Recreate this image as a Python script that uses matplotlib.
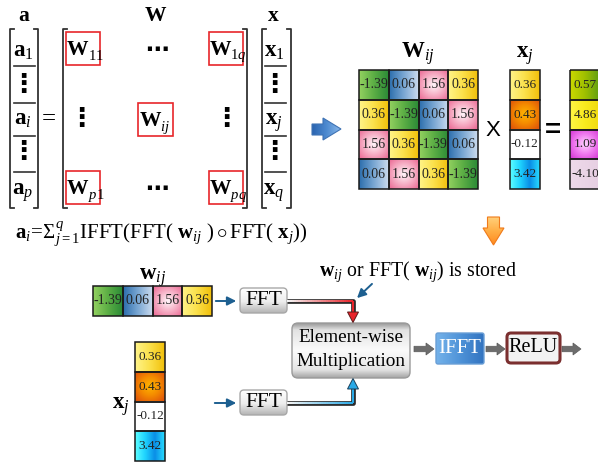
"""Block-circulant FC layer: matrix view, 4x4 example and FFT data path."""

import numpy as np
import matplotlib

matplotlib.use("Agg")
import matplotlib.pyplot as plt
from matplotlib.colors import LinearSegmentedColormap
from matplotlib.patches import FancyBboxPatch, Rectangle, Polygon, FancyArrow
from matplotlib.collections import LineCollection

plt.rcParams["font.family"] = ["Liberation Serif", "DejaVu Sans"]
plt.rcParams["mathtext.fontset"] = "custom"
plt.rcParams["mathtext.rm"] = "Liberation Serif"
plt.rcParams["mathtext.it"] = "Liberation Serif:italic"
plt.rcParams["mathtext.bf"] = "Liberation Serif:bold"

# ---- data -----------------------------------------------------------------
W_block = [
    [-1.39, 0.06, 1.56, 0.36],
    [0.36, -1.39, 0.06, 1.56],
    [1.56, 0.36, -1.39, 0.06],
    [0.06, 1.56, 0.36, -1.39],
]
x_vec = [0.36, 0.43, -0.12, 3.42]
out_vec = [0.57, 4.86, 1.09, -4.10]
w_vec = [-1.39, 0.06, 1.56, 0.36]  # first row of W_ij, what gets stored

a_entries = [r"$\mathbf{a}_1$", "⋮", r"$\mathbf{a}_i$", "⋮", r"$\mathbf{a}_p$"]
x_entries = [r"$\mathbf{x}_1$", "⋮", r"$\mathbf{x}_j$", "⋮", r"$\mathbf{x}_q$"]
W_subs = ["11", "1q", "p1", "pq"]  # corner blocks
W_center_sub = "ij"
formula = (r"$\mathbf{a}_i\!=\!\Sigma_{j=1}^{q}\mathrm{IFFT}(\mathrm{FFT}(\ \mathbf{w}_{ij}\ )"
           r"\circ\mathrm{FFT}(\ \mathbf{x}_j))$")
note = r"$\mathbf{w}_{ij}$ or FFT( $\mathbf{w}_{ij}$) is stored"

# cell fills: (mode, colour stops) per printed value
cell_style = {
    "-1.39": ("h", ["#93d160", "#5cae45", "#2a8a36"]),
    "0.06": ("h", ["#2c6ead", "#7aa7d3", "#cddcef"]),
    "1.56": ("r", ["#fff4f8", "#f7b3c8", "#ec7199"]),
    "0.36": ("h", ["#fff489", "#fbe04a", "#f1bf0a"]),
    "0.43": ("r", ["#ffb400", "#f48a00", "#e0560a"]),
    "-0.12": ("h", ["#ffffff", "#ffffff"]),
    "3.42": ("h", ["#5cffff", "#1fd3ff", "#0a8ee6", "#28dcff"]),
    "0.57": ("h", ["#cbd800", "#9fc000", "#5f9d12"]),
    "4.86": ("h", ["#fff645", "#f9ea1e", "#f0da10"]),
    "1.09": ("r", ["#ffd2ff", "#f07cf0", "#d53ad5"]),
    "-4.10": ("h", ["#eed9ea", "#e6cfe2"]),
}

fig = plt.figure(figsize=(5.98, 4.62), dpi=100)
ax = fig.add_axes([0, 0, 1, 1])
ax.axis("off")


def shade(x0, y0, w, h, stops, mode="h", clip=None, z=1):
    cmap = LinearSegmentedColormap.from_list("g", stops)
    n = 80
    u = np.linspace(0, 1, n)
    if mode == "h":
        arr = np.tile(u, (n, 1))
    elif mode == "v":
        arr = np.tile(u[:, None], (1, n))
    else:
        X, Y = np.meshgrid(np.linspace(-1, 1, n), np.linspace(-1, 1, n))
        arr = np.clip(np.hypot(X, Y) / 1.3, 0, 1)
    im = ax.imshow(arr, cmap=cmap, extent=[x0, x0 + w, y0 + h, y0],
                   origin="upper", aspect="auto", interpolation="bilinear",
                   zorder=z)
    if clip is not None:
        im.set_clip_path(clip)
    return im


def cell(x0, y0, w, h, val, fs):
    key = f"{val:.2f}"
    mode, stops = cell_style[key]
    shade(x0, y0, w, h, stops, mode)
    ax.add_patch(Rectangle((x0, y0), w, h, fill=False, ec="#1a1a1a",
                           lw=1.1, zorder=3))
    ax.text(x0 + w / 2, y0 + h / 2, key, fontsize=fs, ha="center",
            va="center", color="#222", zorder=4)


def rbox(x0, y0, w, h, stops, ec, mode="v", r=5, lw=1.0):
    p = FancyBboxPatch((x0, y0), w, h, boxstyle=f"round,pad=0,rounding_size={r}",
                       fc="none", ec=ec, lw=lw, zorder=3)
    ax.add_patch(p)
    shade(x0, y0, w, h, stops, mode, clip=p, z=2)
    return p


def bracket(x, y0, y1, d):
    ax.plot([x + d, x, x, x + d], [y0, y0, y1, y1], color="#333", lw=1.3)


def pipe(pts, c0, c1, z=3):
    pts = np.asarray(pts, float)
    ax.plot(pts[:, 0], pts[:, 1], color="#2b2b2b", lw=3.4,
            solid_capstyle="butt", zorder=z)
    segs = []
    cm = LinearSegmentedColormap.from_list("p", [c0, c1, c1])
    for a, b in zip(pts[:-1], pts[1:]):
        for t0, t1 in zip(np.linspace(0, 1, 30)[:-1], np.linspace(0, 1, 30)[1:]):
            segs.append([a + (b - a) * t0, a + (b - a) * t1])
    k = np.linspace(0, 1, len(segs))
    lc = LineCollection(segs, colors=cm(k), lw=1.5, zorder=z + 0.1,
                        capstyle="butt")
    ax.add_collection(lc)


def block_label(bx, by, sub):
    # bold W with a compact subscript, sitting inside a red block frame
    ax.text(bx + 11.5, by + 23, "W", fontsize=15.5, fontweight="bold",
            ha="center", va="baseline")
    ax.text(bx + 21.5, by + 27.5, f"${sub}$", fontsize=10.5, ha="left",
            va="baseline")


dots = dict(fontweight="bold", family="DejaVu Sans", ha="center", va="center")

# ---- matrix equation (top left) -------------------------------------------
bold_lbl = dict(fontsize=15.5, fontweight="bold", ha="center", va="baseline")
ax.text(24, 21, "a", **bold_lbl)
ax.text(155, 21, "W", **bold_lbl)
ax.text(273, 21, "x", **bold_lbl)

rows_y = [57, 85, 125, 152, 195]
for col_x, entries in ((23, a_entries), (274, x_entries)):
    for y, e in zip(rows_y, entries):
        if e == "⋮":
            ax.text(col_x, y, e, fontsize=19, **dots)
        else:
            ax.text(col_x, y, e, fontsize=16.5, ha="center", va="baseline")
    for y in (66, 103, 136, 172):
        ax.plot([col_x - 9, col_x + 12], [y, y], color="#333", lw=1.2)

bracket(10, 29, 208, 4)
bracket(38, 29, 208, -4)
bracket(63, 29, 208, 4)
bracket(247, 29, 208, -4)
bracket(262, 29, 208, 4)
bracket(291, 29, 208, -4)
ax.text(49, 119, "=", fontsize=18, ha="center", va="center")

corner_boxes = [(66, 32), (209, 32), (66, 171), (209, 171)]
for (bx, by), sub in zip(corner_boxes, W_subs):
    ax.add_patch(Rectangle((bx, by), 34, 33, fill=False, ec="#e8262a", lw=1.2))
    block_label(bx, by, sub)
ax.add_patch(Rectangle((138, 103), 35, 33, fill=False, ec="#e8262a", lw=1.2))
block_label(138.5, 103.5, W_center_sub)
for y in (50, 189):
    ax.text(157, y, "⋯", fontsize=17, **dots)
for x in (81, 226):
    ax.text(x, 119, "⋮", fontsize=19, **dots)

ax.text(15, 239, formula, fontsize=15, ha="left", va="baseline")

# ---- 4x4 example (top right) ----------------------------------------------
arrow_r = Polygon([(312, 124), (323, 124), (323, 118), (341, 129), (323, 140),
                   (323, 135), (312, 135)], closed=True, fc="none",
                  ec="#3f73b4", lw=0.8, zorder=3)
ax.add_patch(arrow_r)
shade(312, 118, 29, 22, ["#2a64b0", "#4d8ad0", "#8ab8ea"], "h", clip=arrow_r)

ax.text(418, 58, r"$\mathbf{W}_{ij}$", fontsize=16.5, ha="center",
        va="baseline")
gx, gy, cs = 359, 70, 29.75
for r, row in enumerate(W_block):
    for c, v in enumerate(row):
        cell(gx + c * cs, gy + r * cs, cs, cs, v, 10)

ax.text(493, 130, "X", fontsize=16, family="Liberation Sans", ha="center",
        va="center")
ax.text(525, 58, r"$\mathbf{x}_j$", fontsize=16.5, ha="center", va="baseline")
for r, v in enumerate(x_vec):
    cell(510, gy + r * cs, 29.5, cs, v, 9.5)
ax.text(553, 131, "=", fontsize=20, fontweight="bold", family="Liberation Sans",
        ha="center", va="center")
for r, v in enumerate(out_vec):
    cell(570, gy + r * cs, 30, cs, v, 9.5)

arrow_d = Polygon([(487.5, 217), (499.5, 217), (499.5, 228), (504, 228),
                   (493.5, 245), (483, 228), (487.5, 228)], closed=True,
                  fc="none", ec="#f07a1a", lw=0.8, zorder=3)
ax.add_patch(arrow_d)
shade(483, 217, 21, 28, ["#ffd07a", "#ffae45", "#ff8a1f"], "v", clip=arrow_d)

# ---- FFT data path (bottom) -----------------------------------------------
ax.text(153, 280, r"$\mathbf{w}_{ij}$", fontsize=16.5, ha="center",
        va="baseline")
for c, v in enumerate(w_vec):
    cell(93 + c * 29.75, 286, 29.75, 30, v, 10)

ax.text(121, 409, r"$\mathbf{x}_j$", fontsize=16.5, ha="center", va="baseline")
for r, v in enumerate(x_vec):
    cell(135, 342 + r * 29.75, 30, 29.75, v, 9.5)

fft_stops = [(0, "#ffffff"), (0.55, "#ededed"), (1, "#b4b4b4")]
for y in (288, 390):
    rbox(240, y, 47, 25, fft_stops, "#a8a8a8", r=4)
    ax.text(263.5, y + 12.5, "FFT", fontsize=15.5, ha="center", va="center",
            zorder=4)

thin = dict(arrowstyle="-|>", color="#1d5f90", lw=1.4, mutation_scale=13)
ax.annotate("", xy=(239, 301), xytext=(213, 301), arrowprops=thin)
ax.annotate("", xy=(239, 403), xytext=(212, 403), arrowprops=thin)

pipe([(287, 301), (353, 301), (353, 313)], "#f4f4f4", "#e8232a")
pipe([(287, 403), (353, 403), (353, 388)], "#f4f4f4", "#2aa9e6")
ax.add_patch(Polygon([(347.5, 312), (358.5, 312), (353, 322.5)], closed=True,
                     fc="#e8232a", ec="#5a1a1a", lw=0.7, zorder=4))
ax.add_patch(Polygon([(347.5, 389), (358.5, 389), (353, 378.5)], closed=True,
                     fc="#2aa9e6", ec="#1b3f5a", lw=0.7, zorder=4))

elem_stops = [(0, "#9a9a9a"), (0.12, "#e2e2e2"), (0.5, "#fbfbfb"),
              (0.85, "#e6e6e6"), (1, "#a6a6a6")]
rbox(292, 323, 118, 55, elem_stops, "#9a9a9a", r=6)
ax.text(351, 337, "Element-wise", fontsize=13.8, ha="center", va="center",
        zorder=4)
ax.text(351, 361, "Multiplication", fontsize=13.8, ha="center", va="center",
        zorder=4)

for x0, x1 in ((414, 434), (486, 505), (562, 581)):
    ax.add_patch(FancyArrow(x0, 349, x1 - x0, 0, width=5.5, head_width=12,
                            head_length=8, length_includes_head=True,
                            fc="#6d6d6d", ec="#5a5a5a", lw=0.5, zorder=3))

rbox(436, 333, 48, 31, ["#74b2ea", "#4f93d8", "#3374c0"], "#6a9fd6",
     mode="h", r=2)
ax.text(460, 348.5, "IFFT", fontsize=15, color="white", ha="center",
        va="center", zorder=4)

ax.add_patch(FancyBboxPatch((507, 333), 53, 30,
                            boxstyle="round,pad=0,rounding_size=4",
                            fc="#f2f2f2", ec="#7b2f2f", lw=2.2, zorder=3))
ax.text(533.5, 348, "ReLU", fontsize=14.5, ha="center", va="center", zorder=4)

ax.text(319, 276, note, fontsize=14.3, ha="left", va="baseline")
ax.annotate("", xy=(355, 300), xytext=(374, 282), arrowprops=thin)

ax.set_xlim(0, 598)
ax.set_ylim(462, 0)
fig.savefig("out.png", dpi=100)
plt.close(fig)
